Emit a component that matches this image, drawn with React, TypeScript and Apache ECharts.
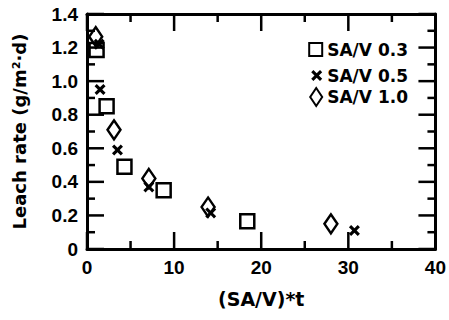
import React, { useEffect, useRef } from "react";
import * as echarts from "echarts";

const seriesNames = ["SA/V 0.3", "SA/V 0.5", "SA/V 1.0"];
const sav03: number[][] = [[1.1, 1.185], [2.25, 0.85], [4.3, 0.49], [8.8, 0.35], [18.4, 0.165]];
const sav05: number[][] = [[1.4, 1.22], [1.5, 0.95], [3.5, 0.59], [7.1, 0.37], [14.2, 0.215], [30.7, 0.11]];
const sav10: number[][] = [[1.0, 1.265], [3.1, 0.71], [7.1, 0.42], [13.9, 0.25], [28.0, 0.15]];
const xMajorTicks = [0, 10, 20, 30, 40];
const xMinorTicks = [5, 15, 25, 35];
const yMajorTicks = [0, 0.2, 0.4, 0.6, 0.8, 1.0, 1.2, 1.4];
const yMinorTicks = [0.1, 0.3, 0.5, 0.7, 0.9, 1.1, 1.3];
const xTitle = "(SA/V)*t";
const yTitle = "Leach rate (g/m²·d)";

const X_PATH = "path://M2,0L5,3L8,0L10,2L7,5L10,8L8,10L5,7L2,10L0,8L3,5L0,2Z";

export default function App() {
  const ref = useRef<HTMLDivElement>(null);
  useEffect(() => {
    if (!ref.current) return;
    const chart = echarts.init(ref.current, null, { renderer: "svg" });
    const tickFont = { fontFamily: "Liberation Sans", fontWeight: "bold" as const, fontSize: 19, color: "#000" };
    const mk = () => ({
      axisLine: { show: true, onZero: false, lineStyle: { color: "#000", width: 3 } },
      axisTick: { show: false },
      minorTick: { show: false },
      splitLine: { show: false },
    });
    const emptyStyle = { color: "rgba(255,255,255,0)", borderColor: "#000", borderWidth: 2.5, opacity: 1 };
    const legendText = { fontFamily: "DejaVu Sans", fontWeight: "bold" as const, fontSize: 17, color: "#000" };
    chart.setOption({
      animation: false,
      backgroundColor: "#fff",
      grid: { left: 87, right: 12, top: 14, bottom: 71 },
      xAxis: [
        {
          type: "value", min: 0, max: 40, interval: 10, position: "bottom",
          ...mk(),
          axisLabel: { show: true, ...tickFont, margin: 9 },
          name: xTitle, nameLocation: "middle", nameGap: 40,
          nameTextStyle: { fontFamily: "DejaVu Sans", fontWeight: "bold", fontSize: 19, color: "#000" },
        },
        {
          type: "value", min: 0, max: 40, interval: 10, position: "top",
          ...mk(), axisLabel: { show: false },
        },
      ],
      yAxis: [
        {
          type: "value", min: 0, max: 1.4, interval: 0.2, position: "left",
          ...mk(),
          axisLabel: { show: true, ...tickFont, margin: 9, formatter: (v: number) => (v === 0 ? "0" : v.toFixed(1)) },
          name: yTitle, nameLocation: "middle", nameGap: 59,
          nameTextStyle: { fontFamily: "DejaVu Sans", fontWeight: "bold", fontSize: 18, color: "#000" },
        },
        {
          type: "value", min: 0, max: 1.4, interval: 0.2, position: "right",
          ...mk(), axisLabel: { show: false },
        },
      ],
      legend: [
        { data: [seriesNames[0]], right: 36, top: 36, itemWidth: 13, itemHeight: 13, itemGap: 7, selectedMode: false, textStyle: legendText },
        { data: [seriesNames[1]], right: 36, top: 62, itemWidth: 11, itemHeight: 11, itemGap: 8, selectedMode: false, textStyle: legendText },
        { data: [seriesNames[2]], right: 36, top: 82, itemWidth: 12, itemHeight: 18, itemGap: 7, selectedMode: false, textStyle: legendText },
      ],
      series: [
        { name: seriesNames[0], type: "scatter", data: sav03, symbol: "rect", symbolSize: 14, itemStyle: emptyStyle },
        { name: seriesNames[1], type: "scatter", data: sav05, symbol: X_PATH, symbolSize: 11, itemStyle: { color: "#000", opacity: 1 } },
        { name: seriesNames[2], type: "scatter", data: sav10, symbol: "diamond", symbolSize: [13, 19], itemStyle: emptyStyle },
      ],
    });

    // Inside ticks on all four sides, as filled bars placed through the axis scales.
    const px = (v: number) => chart.convertToPixel({ xAxisIndex: 0 }, v) as number;
    const py = (v: number) => chart.convertToPixel({ yAxisIndex: 0 }, v) as number;
    const left = px(0), right = px(40), bottom = py(0), top = py(1.4);
    const w = 2.5;
    const fill = { fill: "#000" };
    const bars: any[] = [];
    const addX = (v: number, len: number) => {
      const x = px(v) - w / 2;
      bars.push({ type: "rect", silent: true, z: 50, shape: { x, y: bottom - len, width: w, height: len }, style: fill });
      bars.push({ type: "rect", silent: true, z: 50, shape: { x, y: top, width: w, height: len }, style: fill });
    };
    const addY = (v: number, len: number) => {
      const y = py(v) - w / 2;
      bars.push({ type: "rect", silent: true, z: 50, shape: { x: left, y, width: len, height: w }, style: fill });
      bars.push({ type: "rect", silent: true, z: 50, shape: { x: right - len, y, width: len, height: w }, style: fill });
    };
    xMajorTicks.forEach((v) => addX(v, 17));
    xMinorTicks.forEach((v) => addX(v, 8));
    yMajorTicks.forEach((v) => addY(v, 17));
    yMinorTicks.forEach((v) => addY(v, 8));
    chart.setOption({ graphic: { elements: bars } });
    return () => chart.dispose();
  }, []);
  return <div ref={ref} style={{ width: 449, height: 320, position: "absolute", left: 0, top: 0 }} />;
}
